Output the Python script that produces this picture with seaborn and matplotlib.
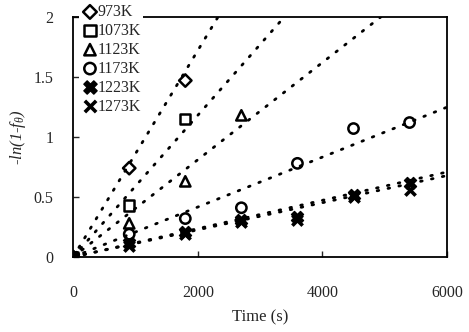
import numpy as np
import pandas as pd
import matplotlib
matplotlib.use('Agg')
import matplotlib.pyplot as plt
import seaborn as sns

# ------------------------------------------------------------
# Data
# ------------------------------------------------------------
temps = ['973K', '1073K', '1123K', '1173K', '1223K', '1273K']
times = [0, 900, 1800, 2700, 3600, 4500, 5400]
y_973 = [0, 0.74, 1.47]
y_1073 = [0, 0.43, 1.15]
y_1123 = [0, 0.28, 0.63, 1.18]
y_1173 = [0, 0.19, 0.32, 0.41, 0.78, 1.07, 1.12]
y_1223 = [0, 0.12, 0.21, 0.31, 0.33, 0.52, 0.62]
y_1273 = [0, 0.09, 0.19, 0.29, 0.31, 0.50, 0.56]
# slopes of the dotted linear fits (1/s)
fit_slopes = [8.6e-4, 5.9e-4, 4.05e-4, 2.08e-4, 1.18e-4, 1.13e-4]

series = [y_973, y_1073, y_1123, y_1173, y_1223, y_1273]
markers = ['D', 's', '^', 'o', 'X', 'x']
msizes = [40, 55, 55, 55, 75, 55]
filled = [False, False, False, False, True, True]

rows = []
for temp, ys in zip(temps, series):
    for t, v in zip(times, ys):
        rows.append({'temp': temp, 'time': t, 'val': v})
df = pd.DataFrame(rows)

# ------------------------------------------------------------
# Plot
# ------------------------------------------------------------
sns.set_style('white')
plt.rcParams['font.family'] = ['Liberation Serif', 'DejaVu Serif']
plt.rcParams['mathtext.fontset'] = 'custom'
plt.rcParams['mathtext.rm'] = 'Liberation Serif'
plt.rcParams['mathtext.it'] = 'Liberation Serif:italic'

fig = plt.figure(figsize=(4.69, 3.32), dpi=100)
ax = fig.add_axes([0.156, 0.226, 0.797, 0.723])

t_fit = np.linspace(0, 6000, 200)
for slope in fit_slopes:
    sns.lineplot(x=t_fit, y=slope * t_fit, ax=ax, color='black',
                 linewidth=2.0, linestyle=(0, (0.6, 3.4)),
                 dash_capstyle='round', legend=False)

for temp, m, s, f in zip(temps, markers, msizes, filled):
    sub = df[df['temp'] == temp]
    if m == 'x':
        sns.scatterplot(data=sub, x='time', y='val', ax=ax, marker=m, s=s,
                        color='black', linewidth=2.6, label=temp, zorder=4)
    elif f:
        sns.scatterplot(data=sub, x='time', y='val', ax=ax, marker=m, s=s,
                        color='black', edgecolor='black', linewidth=1.0,
                        label=temp, zorder=4)
    else:
        sns.scatterplot(data=sub, x='time', y='val', ax=ax, marker=m, s=s,
                        facecolor='none', edgecolor='black', linewidth=1.8,
                        label=temp, zorder=4)

ax.set_xlim(0, 6000)
ax.set_ylim(0, 2)
ax.set_xticks([0, 2000, 4000, 6000])
ax.set_yticks([0, 0.5, 1, 1.5, 2])
ax.set_yticklabels(['0', '0.5', '1', '1.5', '2'])
ax.tick_params(axis='x', direction='in', length=4, width=1, pad=20, labelsize=11.5)
ax.tick_params(axis='y', direction='in', length=4, width=1, pad=14, labelsize=11.5)
ax.tick_params(bottom=True, left=True)
for sp in ax.spines.values():
    sp.set_color('black')
    sp.set_linewidth(1.3)

ax.set_xlabel('Time (s)', fontsize=12, labelpad=6)
ax.set_ylabel(r'-ln(1-f$_{\theta}$)', fontsize=12, fontstyle='italic', labelpad=4)

leg = ax.legend(loc='upper left', bbox_to_anchor=(0.015, 1.06), frameon=True,
                facecolor='white', edgecolor='none', framealpha=1,
                fontsize=11.5, handletextpad=-0.1, labelspacing=0.18,
                borderpad=0.1, handlelength=1.2, borderaxespad=0.0,
                markerscale=1.1)

fig.savefig('out.png', dpi=100)
